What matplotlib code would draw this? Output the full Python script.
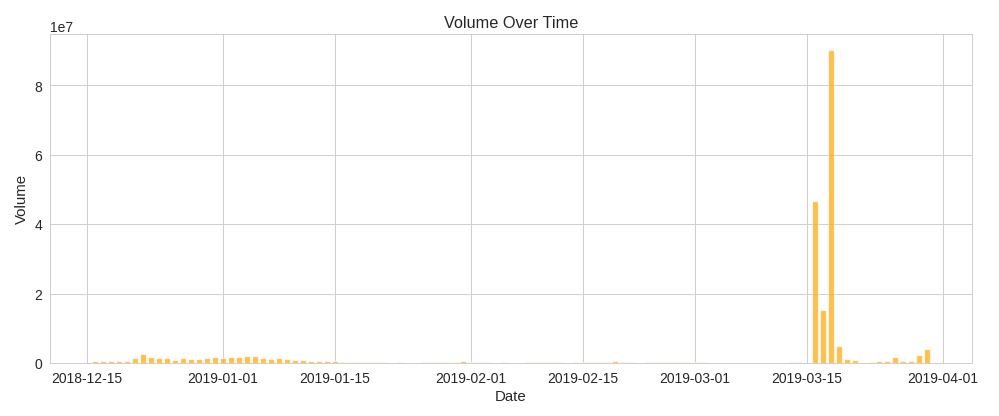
#!/usr/bin/env python3
"""Daily trading volume as bars over time."""

import pandas as pd
import seaborn as sns
from matplotlib import pyplot as plt
import matplotlib.dates as plt_dates

# Daily volume (millions)
dec_vol = [0.55, 0.48, 0.48, 0.5, 0.68, 1.4, 2.6, 1.85, 1.5, 1.4, 1.0,
           1.4, 1.1, 1.2, 1.55, 1.85]
jan_vol = [1.55, 1.8, 1.85, 2.15, 2.15, 1.6, 1.2, 1.6, 1.2, 0.9, 0.8,
           0.7, 0.7, 0.68, 0.55, 0.45, 0.45, 0.42, 0.42, 0.4, 0.35, 0.1,
           0.25, 0.08, 0.08, 0.38, 0.38, 0.32, 0.35, 0.38, 0.7]
feb_vol = [0.42, 0.38, 0.38, 0.06, 0.18, 0.1, 0.12, 0.38, 0.38, 0.38,
           0.35, 0.25, 0.12, 0.3, 0.2, 0.3, 0.35, 0.38, 0.65, 0.38, 0.35,
           0.12, 0.38, 0.38, 0.35, 0.38, 0.38, 0.38]
mar_vol = [0.38, 0.38, 0.06, 0.05, 0.04, 0.06, 0.05, 0.08, 0.12, 0.06,
           0.05, 0.04, 0.35, 0.18, 0.12, 46.8, 15.3, 90.2, 4.9, 1.16, 0.87,
           0.08, 0.42, 0.6, 0.52, 1.75, 0.6, 0.6, 2.4, 4.0]

dates = pd.date_range("2018-12-16", "2019-03-30", freq="D")
volume = [v * 1e6 for v in dec_vol + jan_vol + feb_vol + mar_vol]

sns.set_style("whitegrid")
plt.rcParams["font.family"] = ["Liberation Sans", "DejaVu Sans"]

fig, ax = plt.subplots(figsize=(12, 5), dpi=83.33)
ax.bar(dates, volume, color="orange", alpha=0.7)

# Finishing touches
ax.xaxis.set_major_locator(plt_dates.DayLocator(bymonthday=[1, 15]))
ax.xaxis.set_major_formatter(plt_dates.DateFormatter("%Y-%m-%d"))
ax.tick_params(labelsize=12, labelcolor="#262626")
ax.yaxis.get_offset_text().set_fontsize(12)
ax.set_xlabel("Date", fontsize=13)
ax.set_ylabel("Volume", fontsize=13)
ax.set_title("Volume Over Time", fontsize=14)

fig.subplots_adjust(left=0.05, right=0.972, top=0.916, bottom=0.127)
fig.savefig("out.png")
